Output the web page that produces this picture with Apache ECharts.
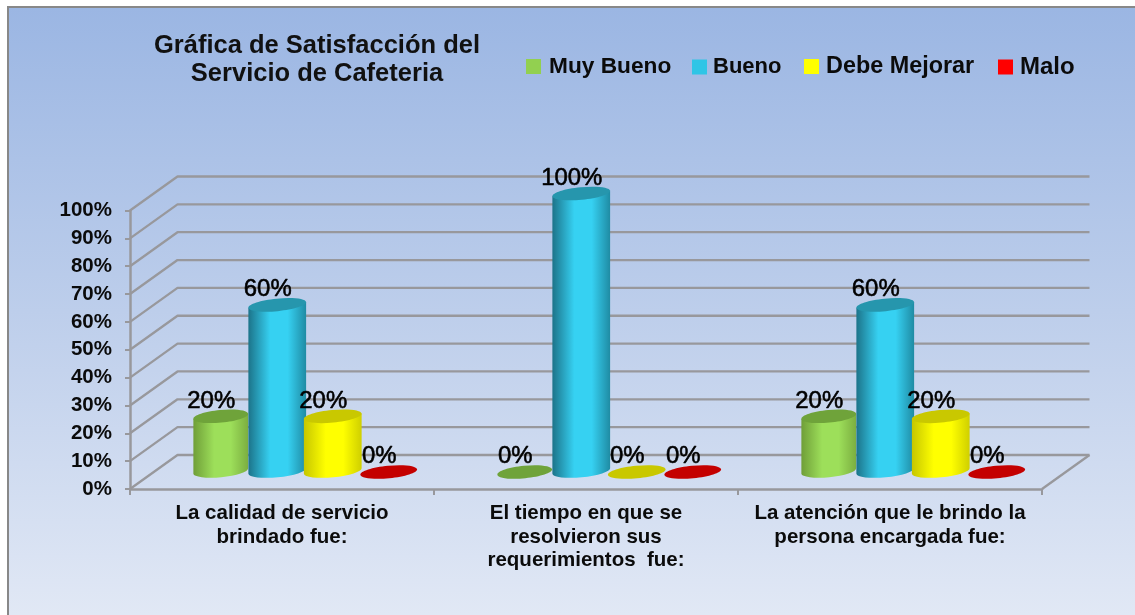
<!DOCTYPE html>
<html>
<head>
<meta charset="utf-8">
<style>html,body{margin:0;padding:0;background:#fff}#c{width:1135px;height:615px}</style>
<script src="https://cdn.jsdelivr.net/npm/echarts@6/dist/echarts.min.js"></script>
</head>
<body>
<div id="c"></div>
<script>
const categories = ['La calidad de servicio\nbrindado fue:', 'El tiempo en que se\nresolvieron sus\nrequerimientos  fue:', 'La atención que le brindo la\npersona encargada fue:'];
const muyBueno = [20, 0, 20];
const bueno = [60, 100, 60];
const debeMejorar = [20, 0, 20];
const malo = [0, 0, 0];
const yTicks = [0, 10, 20, 30, 40, 50, 60, 70, 80, 90, 100];

const FONT = '"Liberation Sans", Arial, sans-serif';
const DX = 47.5, DY = -34;            // depth of the 3D box
const AXIS = '#98989c';

const palette = {
  'Muy Bueno':    {legend:'#92D050', top:'#6FA33A', edge0:'#6F9E38', mid:'#9DDF5A', edge1:'#7BAE40', offset:-85, rx:27.5},
  'Bueno':        {legend:'#2FC5E6', top:'#2696AD', edge0:'#1C7389', mid:'#36D1F2', edge1:'#1F8BA3', offset:-28.5, rx:29},
  'Debe Mejorar': {legend:'#FFFF00', top:'#C9C800', edge0:'#C6C600', mid:'#FFFF00', edge1:'#CFCF00', offset:27, rx:29},
  'Malo':         {legend:'#FF0000', top:'#C40000', edge0:'#A00000', mid:'#FF0000', edge1:'#C00000', offset:83, rx:28.5}
};

function cylinder(name) {
  const p = palette[name];
  return function (params, api) {
    const cat = api.value(0), val = api.value(1);
    const top = api.coord([cat, val]);
    const base = api.coord([cat, 0]);
    const cx = top[0] + DX / 2 + p.offset;
    const yt = top[1] + DY / 2;
    const yb = base[1] + DY / 2 - 1;
    const rx = p.rx, ry = 6.3, rot = -5.5;
    const a = rot * Math.PI / 180;
    const ex = rx * Math.cos(a), ey = rx * Math.sin(a);
    const children = [];
    if (val > 0) {
      children.push({
        type: 'path',
        shape: {
          pathData: `M ${cx - ex} ${yt - ey} L ${cx - ex} ${yb - ey} A ${rx} ${ry} ${rot} 0 0 ${cx + ex} ${yb + ey} L ${cx + ex} ${yt + ey} Z`
        },
        style: {
          fill: new echarts.graphic.LinearGradient(0, 0, 1, 0, [
            {offset: 0, color: p.edge0}, {offset: 0.38, color: p.mid},
            {offset: 0.68, color: p.mid}, {offset: 1, color: p.edge1}
          ])
        }
      });
    }
    children.push({
      type: 'ellipse',
      shape: {cx: 0, cy: 0, rx: rx, ry: ry},
      x: cx, y: yt, rotation: -a,
      style: {fill: p.top}
    });
    children.push({
      type: 'text',
      x: cx - 9.5, y: yt - 15,
      scaleX: 1.04,
      style: {
        text: val + '%', font: '23px ' + FONT, fill: '#000',
        stroke: '#000', lineWidth: 0.55,
        align: 'center', verticalAlign: 'middle'
      }
    });
    return {type: 'group', children: children};
  };
}

function wall(params, api) {
  const v = api.value(0);
  const c = params.coordSys;
  const y = api.coord([0, v])[1];
  const x0 = c.x, x1 = c.x + c.width;
  const line = {stroke: AXIS, lineWidth: 2.3, lineJoin: 'round'};
  const pts = [[x0, y], [x0 + DX, y + DY], [x1 + DX, y + DY]];
  const children = [{type: 'polyline', shape: {points: pts}, style: Object.assign({fill: null}, line)}];
  if (v === 0) {
    children.push({type: 'line', shape: {x1: x1, y1: y, x2: x1 + DX, y2: y + DY}, style: line});
  }
  return {type: 'group', children: children};
}

function makeSeries(name, values) {
  return {
    name: name,
    type: 'custom',
    coordinateSystem: 'cartesian2d',
    renderItem: cylinder(name),
    itemStyle: {color: palette[name].legend},
    encode: {x: 0, y: 1},
    data: values.map((v, i) => [i, v]),
    z: 5,
    silent: true,
    clip: false
  };
}

function makeLegend(name, left, size, gap, top) {
  return {
    data: [{name: name, icon: 'rect', itemStyle: {color: palette[name].legend}}],
    left: left, top: top, itemWidth: 15, itemHeight: 15, itemGap: 0,
    selectedMode: false, padding: 0,
    textStyle: {fontFamily: FONT, fontWeight: 'bold', fontSize: size, color: '#0b0b0b', padding: [0, 0, 0, gap]}
  };
}

const chart = echarts.init(document.getElementById('c'), null, {renderer: 'canvas', width: 1135, height: 615});
chart.setOption({
  animation: false,
  backgroundColor: '#ffffff',
  title: {
    text: 'Gráfica de Satisfacción del\nServicio de Cafeteria',
    left: 312, top: 27, textAlign: 'center',
    textStyle: {fontFamily: FONT, fontWeight: 'bold', fontSize: 25.5, lineHeight: 28, color: '#111'}
  },
  legend: [
    makeLegend('Muy Bueno', 526, 22.7, 3, 55),
    makeLegend('Bueno', 692, 22, 1, 56),
    makeLegend('Debe Mejorar', 804, 23.4, 2, 55),
    makeLegend('Malo', 998, 24, 2, 55)
  ],
  graphic: [
    {type: 'rect', z: -10, silent: true, shape: {x: 7, y: 6, width: 1128, height: 609}, style: {fill: '#888888'}},
    {type: 'rect', z: -9, silent: true, shape: {x: 9, y: 8, width: 1126, height: 607},
      style: {fill: new echarts.graphic.LinearGradient(0, 0, 0, 1, [
        {offset: 0, color: '#9BB6E3'}, {offset: 0.5, color: '#BDCEEB'}, {offset: 1, color: '#E1E8F5'}
      ])}}
  ],
  grid: {left: 130, top: 210.5, width: 912, height: 278.5, containLabel: false},
  xAxis: {
    type: 'category',
    data: categories,
    axisLine: {show: true, lineStyle: {color: AXIS, width: 2.5}},
    axisTick: {show: true, length: 6, alignWithLabel: false, lineStyle: {color: AXIS, width: 2}},
    axisLabel: {interval: 0, margin: 13, fontFamily: FONT, fontWeight: 'bold', fontSize: 20.5, lineHeight: 23.5, color: '#0b0b0b'},
    splitLine: {show: false}
  },
  yAxis: {
    type: 'value',
    min: 0, max: 100, interval: 10,
    axisLine: {show: true, lineStyle: {color: AXIS, width: 2.5}},
    axisTick: {show: true, length: 5, lineStyle: {color: AXIS, width: 2}},
    axisLabel: {margin: 18, formatter: '{value}%', fontFamily: FONT, fontWeight: 'bold', fontSize: 20.5, color: '#0b0b0b', padding: [2, 0, 0, 0]},
    splitLine: {show: false}
  },
  series: [
    {
      name: 'pared', type: 'custom', coordinateSystem: 'cartesian2d',
      renderItem: wall, encode: {y: 0}, data: yTicks.map(v => [v]), z: 1, silent: true, clip: false
    },
    makeSeries('Muy Bueno', muyBueno),
    makeSeries('Bueno', bueno),
    makeSeries('Debe Mejorar', debeMejorar),
    makeSeries('Malo', malo)
  ]
});
</script>
</body>
</html>
